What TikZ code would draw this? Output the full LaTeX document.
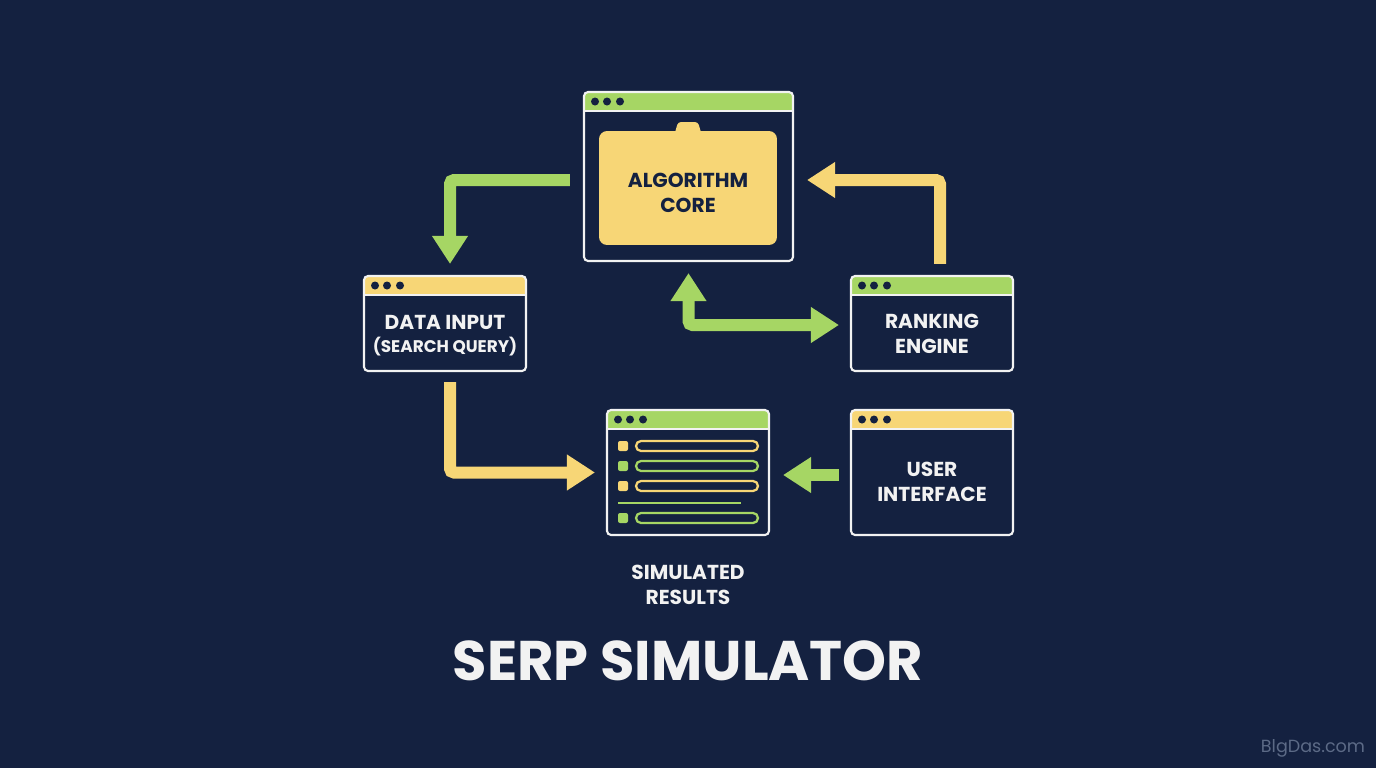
\documentclass[tikz,border=0pt]{standalone}
\usepackage{fontspec}
\setmainfont{Poppins}
\usetikzlibrary{arrows.meta}
\definecolor{navybg}{RGB}{20, 33, 64}
\definecolor{leafgreen}{RGB}{166, 214, 100}
\definecolor{sunyellow}{RGB}{247, 214, 118}
\definecolor{softwhite}{RGB}{242, 242, 242}
\definecolor{markgray}{RGB}{92, 106, 134}

\begin{document}
\begin{tikzpicture}[
    x=0.02cm, y=-0.02cm,
    >={Triangle[length=0.56cm, width=0.68cm]},
    win/.style={draw=softwhite, line width=1.2pt, rounded corners=0.08cm, fill=navybg, inner sep=0pt,
        path picture={
            \fill[#1, sharp corners] (path picture bounding box.north west) rectangle ([yshift=-0.38cm]path picture bounding box.north east);
            \draw[softwhite, line width=1pt] ([yshift=-0.38cm]path picture bounding box.north west) -- ([yshift=-0.38cm]path picture bounding box.north east);
            \foreach \dx in {0.22,0.46,0.72}{ \fill[navybg] ([shift={(\dx cm,-0.19cm)}]path picture bounding box.north west) circle (0.08cm); }
        }},
    lbl/.style={text=softwhite, align=center, font=\bfseries\fontsize{11.5}{14.2}\selectfont},
    flow/.style={line width=0.24cm, rounded corners=0.08cm},
    gflow/.style={flow, draw=leafgreen},
    yflow/.style={flow, draw=sunyellow},
    rowbar/.style={line width=0.045cm, rounded corners=0.1cm},
]

% --- Background ---
\fill[navybg] (0,0) rectangle (1376,768);
\useasboundingbox (0,0) rectangle (1376,768);

% --- Windows ---
\node[win=leafgreen, minimum width=4.18cm, minimum height=3.38cm] (core) at (688.5,176.5) {};
\node[win=sunyellow, minimum width=3.24cm, minimum height=1.9cm] (data) at (445,323.5) {};
\node[win=leafgreen, minimum width=3.24cm, minimum height=1.9cm] (rank) at (932,323.5) {};
\node[win=leafgreen, minimum width=3.24cm, minimum height=2.5cm] (results) at (688,472.5) {};
\node[win=sunyellow, minimum width=3.24cm, minimum height=2.5cm] (ui) at (932,472.5) {};

% --- Folder inside the core window ---
\fill[sunyellow, rounded corners=0.06cm] (674,136) -- (678,122) -- (698,122) -- (702,136) -- cycle;
\node[fill=sunyellow, rounded corners=0.16cm, minimum width=3.56cm, minimum height=2.28cm] (folder) at (688,188) {};
\node[text=navybg, align=center, font=\bfseries\fontsize{11.5}{14.2}\selectfont] (coretxt) at (688,193) {ALGORITHM\\CORE};

% --- Window labels ---
\node[lbl] (datatxt) at (445,336) {DATA INPUT\\[-1pt]{\fontsize{9.6}{12}\selectfont (SEARCH QUERY)}};
\node[lbl] (ranktxt) at (932,334) {RANKING\\ENGINE};
\node[lbl] (uitxt) at (932,482) {USER\\INTERFACE};

% --- Result rows ---
\foreach \y/\c in {446/sunyellow, 466/leafgreen, 486/sunyellow, 518/leafgreen}{
    \fill[\c, rounded corners=0.04cm] (618,\y-5) rectangle (628,\y+5);
    \draw[\c, rowbar] (636,\y-5) rectangle (758,\y+5);
}
\draw[leafgreen, line width=0.045cm] (618,503) -- (741,503);

% --- Flow arrows ---
\draw[gflow, ->] ([shift={(-0.26cm,-0.07cm)}]core.west) -| ([shift={(0.1cm,0.22cm)}]data.north);
\draw[yflow, ->] ([shift={(0.16cm,0.22cm)}]rank.north) |- ([shift={(0.26cm,-0.07cm)}]core.east);
\draw[gflow, <->] ([yshift=-0.22cm]core.south) |- ([shift={(-0.22cm,-0.03cm)}]rank.west);
\draw[yflow, ->] ([shift={(0.1cm,-0.2cm)}]data.south) |- ([xshift=-0.22cm]results.west);
\draw[gflow, ->] ([shift={(-0.22cm,-0.05cm)}]ui.west) -- ([shift={(0.26cm,-0.05cm)}]results.east);

% --- Captions ---
\node[lbl] (restxt) at (688,585) {SIMULATED\\RESULTS};
\node[text=softwhite, font=\bfseries\fontsize{31.8}{38}\selectfont] (title) at (688,661) {SERP SIMULATOR};
\node[text=markgray, font=\fontsize{10}{12}\selectfont] (mark) at (1313,748) {BlgDas.com};

\end{tikzpicture}
\end{document}
